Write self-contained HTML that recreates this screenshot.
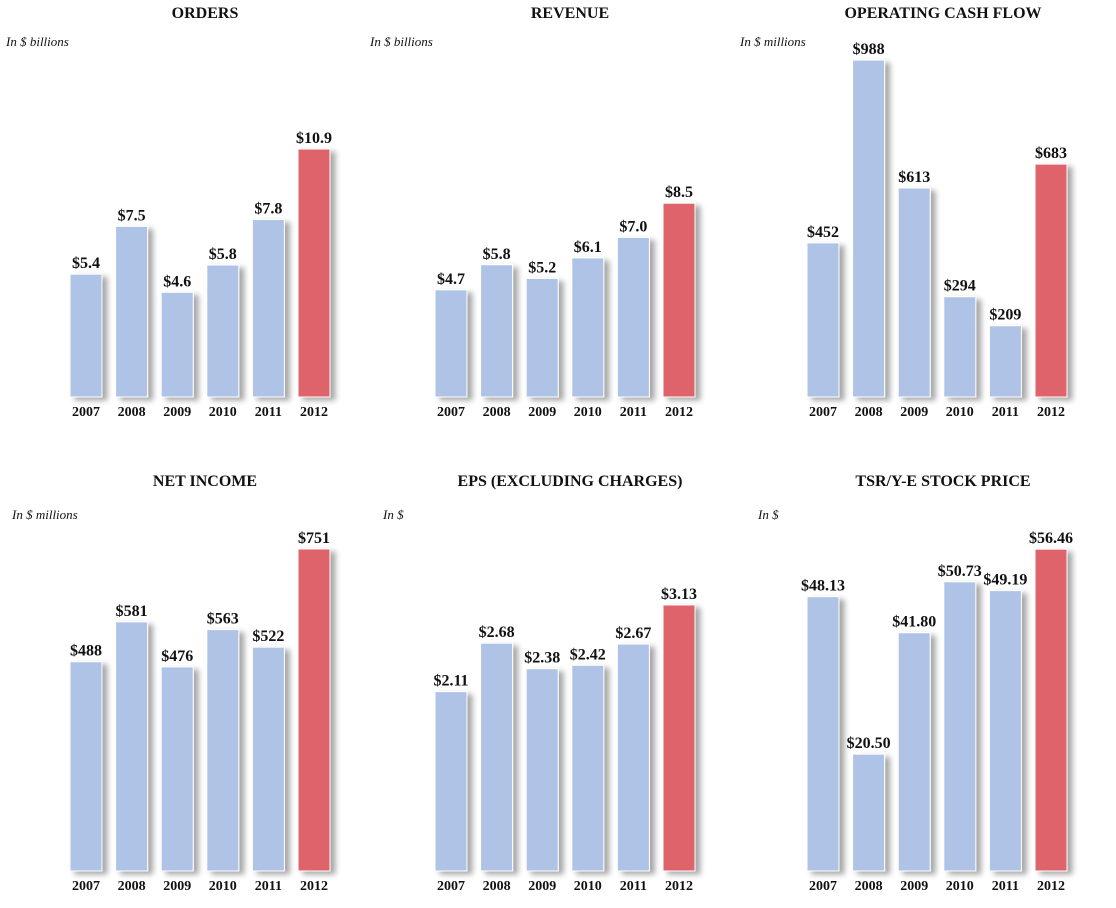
<!DOCTYPE html>
<html><head><meta charset="utf-8">
<style>
body{margin:0;background:#fff;width:1116px;height:903px;overflow:hidden;font-family:"Liberation Serif",serif;}
svg text{font-family:"Liberation Serif",serif;}
</style></head>
<body>
<svg id="c" width="1116" height="903">
<defs>
<filter id="sh" x="-30%" y="-10%" width="180%" height="130%">
<feGaussianBlur in="SourceAlpha" stdDeviation="3"/>
<feOffset dx="5" dy="3"/>
<feComponentTransfer><feFuncA type="linear" slope="0.35"/></feComponentTransfer>
<feMerge><feMergeNode/><feMergeNode in="SourceGraphic"/></feMerge>
</filter>
</defs>
</svg>
<script>
const years = ["2007","2008","2009","2010","2011","2012"];
const ordersVals = [5.4,7.5,4.6,5.8,7.8,10.9];
const ordersLabels = ["$5.4","$7.5","$4.6","$5.8","$7.8","$10.9"];
const revenueVals = [4.7,5.8,5.2,6.1,7.0,8.5];
const revenueLabels = ["$4.7","$5.8","$5.2","$6.1","$7.0","$8.5"];
const ocfVals = [452,988,613,294,209,683];
const ocfLabels = ["$452","$988","$613","$294","$209","$683"];
const netVals = [488,581,476,563,522,751];
const netLabels = ["$488","$581","$476","$563","$522","$751"];
const epsVals = [2.11,2.68,2.38,2.42,2.67,3.13];
const epsLabels = ["$2.11","$2.68","$2.38","$2.42","$2.67","$3.13"];
const tsrVals = [48.13,20.50,41.80,50.73,49.19,56.46];
const tsrLabels = ["$48.13","$20.50","$41.80","$50.73","$49.19","$56.46"];

const NS="http://www.w3.org/2000/svg";
const svg=document.getElementById('c');
function mk(tag,attrs,parent){const e=document.createElementNS(NS,tag);for(const k in attrs)e.setAttribute(k,attrs[k]);(parent||svg).appendChild(e);return e;}

const panels=[
 {name:"orders",title:"ORDERS",unit:"In $ billions",vals:ordersVals,labels:ordersLabels,x0:70,base:397,pxPer:22.75,tx:205,ty:18,ux:6,uy:46},
 {name:"revenue",title:"REVENUE",unit:"In $ billions",vals:revenueVals,labels:revenueLabels,x0:435,base:397,pxPer:22.8,tx:570,ty:18,ux:370,uy:46},
 {name:"operating-cash-flow",title:"OPERATING CASH FLOW",unit:"In $ millions",vals:ocfVals,labels:ocfLabels,x0:807,base:397,pxPer:0.341,tx:943,ty:18,ux:740,uy:46},
 {name:"net-income",title:"NET INCOME",unit:"In $ millions",vals:netVals,labels:netLabels,x0:70,base:871,pxPer:0.4288,tx:205,ty:486,ux:12,uy:519},
 {name:"eps",title:"EPS (EXCLUDING CHARGES)",unit:"In $",vals:epsVals,labels:epsLabels,x0:435,base:871,pxPer:85,tx:570,ty:486,ux:383,uy:519},
 {name:"tsr-stock-price",title:"TSR/Y-E STOCK PRICE",unit:"In $",vals:tsrVals,labels:tsrLabels,x0:807,base:871,pxPer:5.70,tx:943,ty:486,ux:758,uy:519}
];
const step=45.6, bw=32;
panels.forEach(p=>{
 const g=mk('g',{});
 
 
 const t=mk('text',{x:p.tx,y:p.ty,'text-anchor':'middle','font-size':'16','font-weight':'bold',fill:'#111'},g);
 t.textContent=p.title;
 
 
 const u=mk('text',{x:p.ux,y:p.uy,'font-size':'13','font-style':'italic',fill:'#111'},g);
 u.textContent=p.unit;
 
 
 p.vals.forEach((v,i)=>{
  const x=p.x0+i*step, h=v*p.pxPer, y=p.base-h;
  const r=mk('rect',{x:x,y:y,width:bw,height:h,fill:i===5?'#df636b':'#aec3e6',stroke:'#fff','stroke-width':'1',filter:'url(#sh)'},g);
  
  
  const vl=mk('text',{x:x+bw/2,y:y-6,'text-anchor':'middle','font-size':'16','font-weight':'bold',fill:'#111'},g);
  vl.textContent=p.labels[i];
  
  
  const yl=mk('text',{x:x+bw/2,y:p.base+19,'text-anchor':'middle','font-size':'14','font-weight':'bold',fill:'#111'},g);
  yl.textContent=years[i];
  
  
 });
});
</script>
</body></html>
